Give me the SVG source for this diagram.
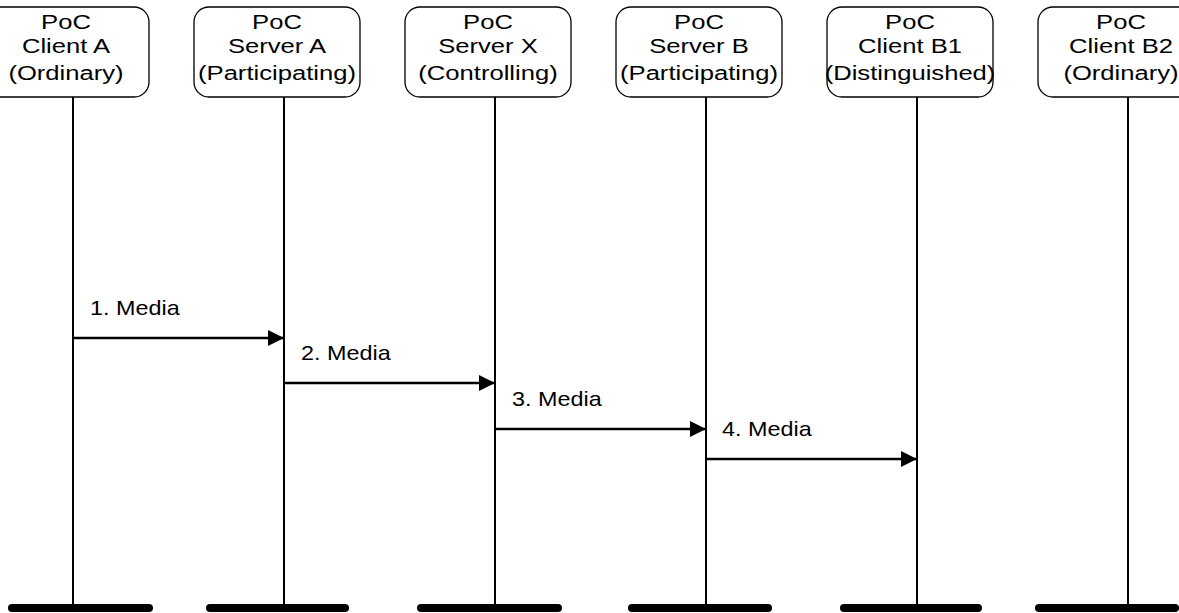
<svg xmlns="http://www.w3.org/2000/svg" width="1179" height="613" viewBox="0 0 1179 613">
<style>
.box{fill:#fff;stroke:#000;stroke-width:1.3}
.life{stroke:#000;stroke-width:2}
.bar{stroke:#000;stroke-width:8;stroke-linecap:round}
.msg{stroke:#000;stroke-width:2.6;fill:none}
.hd{font-family:"Liberation Sans",Arial,sans-serif;font-size:21px;fill:#000;text-anchor:middle}
.lb{font-family:"Liberation Sans",Arial,sans-serif;font-size:20px;fill:#000}
</style>
<defs>
<marker id="ah" markerUnits="userSpaceOnUse" markerWidth="18" markerHeight="18" refX="16" refY="8" orient="auto">
<path d="M0,0 L16,8 L0,16 Z" fill="#000"/>
</marker>
</defs>
<g id="clientA">
<rect class="box" x="-17" y="7" width="166" height="90" rx="15"/>
<line class="life" x1="73" y1="97" x2="73" y2="605"/>
<line class="bar" x1="12" y1="608" x2="149" y2="608"/>
<g transform="translate(66,0) scale(1.22,1)"><text class="hd" x="0" y="29">PoC</text><text class="hd" x="0" y="53">Client A</text><text class="hd" x="0" y="80">(Ordinary)</text></g>
</g>
<g id="serverA">
<rect class="box" x="194" y="7" width="166" height="90" rx="15"/>
<line class="life" x1="284" y1="97" x2="284" y2="605"/>
<line class="bar" x1="210" y1="608" x2="345" y2="608"/>
<g transform="translate(277,0) scale(1.22,1)"><text class="hd" x="0" y="29">PoC</text><text class="hd" x="0" y="53">Server A</text><text class="hd" x="0" y="80">(Participating)</text></g>
</g>
<g id="serverX">
<rect class="box" x="405" y="7" width="166" height="90" rx="15"/>
<line class="life" x1="495" y1="97" x2="495" y2="605"/>
<line class="bar" x1="421" y1="608" x2="558" y2="608"/>
<g transform="translate(488,0) scale(1.22,1)"><text class="hd" x="0" y="29">PoC</text><text class="hd" x="0" y="53">Server X</text><text class="hd" x="0" y="80">(Controlling)</text></g>
</g>
<g id="serverB">
<rect class="box" x="616" y="7" width="166" height="90" rx="15"/>
<line class="life" x1="706" y1="97" x2="706" y2="605"/>
<line class="bar" x1="632" y1="608" x2="768" y2="608"/>
<g transform="translate(699,0) scale(1.22,1)"><text class="hd" x="0" y="29">PoC</text><text class="hd" x="0" y="53">Server B</text><text class="hd" x="0" y="80">(Participating)</text></g>
</g>
<g id="clientB1">
<rect class="box" x="827" y="7" width="166" height="90" rx="15"/>
<line class="life" x1="917" y1="97" x2="917" y2="605"/>
<line class="bar" x1="844" y1="608" x2="978" y2="608"/>
<g transform="translate(910,0) scale(1.22,1)"><text class="hd" x="0" y="29">PoC</text><text class="hd" x="0" y="53">Client B1</text><text class="hd" x="0" y="80">(Distinguished)</text></g>
</g>
<g id="clientB2">
<rect class="box" x="1038" y="7" width="166" height="90" rx="15"/>
<line class="life" x1="1128" y1="97" x2="1128" y2="605"/>
<line class="bar" x1="1039" y1="608" x2="1175" y2="608"/>
<g transform="translate(1121,0) scale(1.22,1)"><text class="hd" x="0" y="29">PoC</text><text class="hd" x="0" y="53">Client B2</text><text class="hd" x="0" y="80">(Ordinary)</text></g>
</g>
<g id="connectors">
<line class="msg" x1="73" y1="338" x2="284" y2="338" marker-end="url(#ah)"/>
<line class="msg" x1="284" y1="383" x2="495" y2="383" marker-end="url(#ah)"/>
<line class="msg" x1="495" y1="429" x2="706" y2="429" marker-end="url(#ah)"/>
<line class="msg" x1="706" y1="459" x2="917" y2="459" marker-end="url(#ah)"/>
<text class="lb" transform="translate(90,315) scale(1.17,1)">1. Media</text>
<text class="lb" transform="translate(301,360) scale(1.17,1)">2. Media</text>
<text class="lb" transform="translate(512,406) scale(1.17,1)">3. Media</text>
<text class="lb" transform="translate(722,436) scale(1.17,1)">4. Media</text>
</g>
</svg>
